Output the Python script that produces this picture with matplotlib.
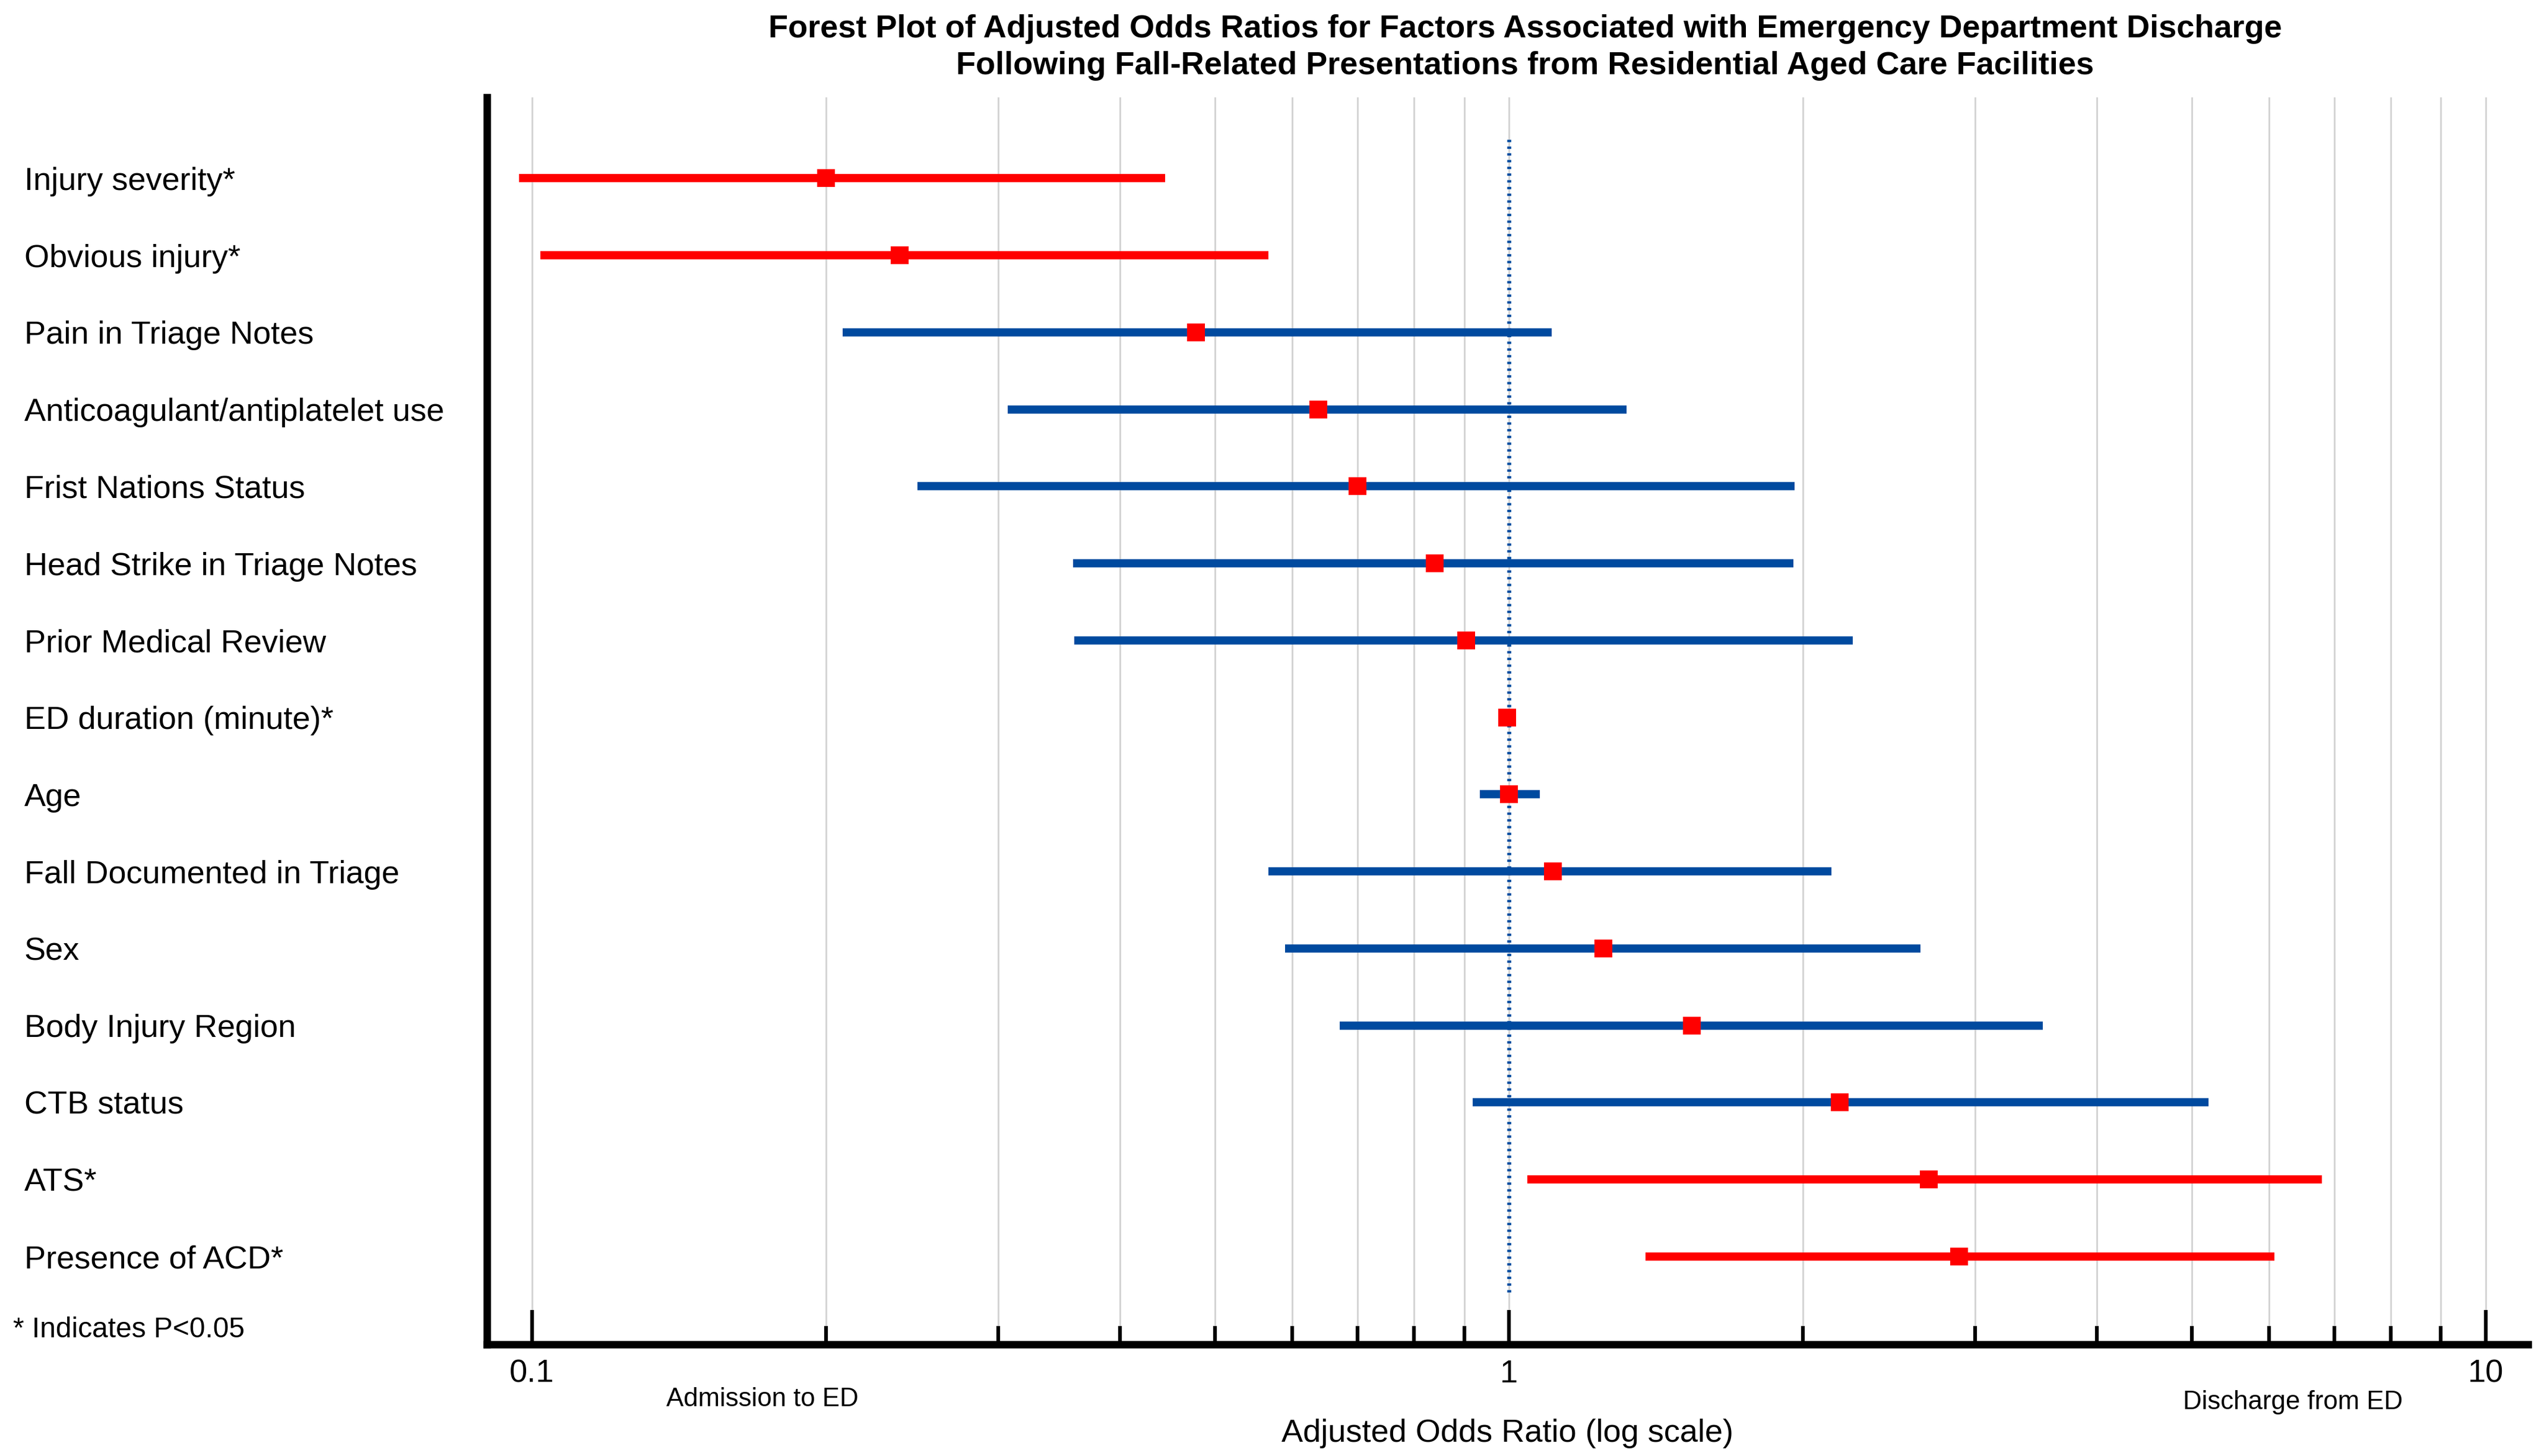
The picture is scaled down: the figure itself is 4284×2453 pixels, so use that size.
import matplotlib
matplotlib.use("Agg")
import matplotlib.pyplot as plt
import matplotlib.transforms as mtransforms
from matplotlib.ticker import LogLocator, NullFormatter, FixedLocator, FixedFormatter

plt.rcParams["font.family"] = ["Liberation Sans", "DejaVu Sans"]

# data (top to bottom)
factors = [
    "Injury severity*",
    "Obvious injury*",
    "Pain in Triage Notes",
    "Anticoagulant/antiplatelet use",
    "Frist Nations Status",
    "Head Strike in Triage Notes",
    "Prior Medical Review",
    "ED duration (minute)*",
    "Age",
    "Fall Documented in Triage",
    "Sex",
    "Body Injury Region",
    "CTB status",
    "ATS*",
    "Presence of ACD*",
]
odds_ratio = [0.200, 0.238, 0.478, 0.638, 0.700, 0.840, 0.904, 0.996, 1.000, 1.109, 1.250, 1.540, 2.180, 2.690, 2.890]
ci_low = [0.097, 0.102, 0.208, 0.307, 0.248, 0.358, 0.359, 0.994, 0.934, 0.567, 0.590, 0.671, 0.918, 1.045, 1.380]
ci_high = [0.445, 0.567, 1.107, 1.320, 1.960, 1.955, 2.250, 0.998, 1.075, 2.140, 2.640, 3.520, 5.200, 6.800, 6.080]
significant = [True, True, False, False, False, False, False, True, False, False, False, False, False, True, True]

RED = "#FF0000"
BLUE = "#004A9F"

fig = plt.figure(figsize=(14.28, 8.1767), dpi=300)
ax = fig.add_axes([0.1914, 0.0767, 0.8023, 0.8564])

rows = list(range(len(factors)))
for i in rows:
    color = RED if significant[i] else BLUE
    ax.hlines(i, ci_low[i], ci_high[i], color=color, lw=3.3, zorder=3)
ax.plot(odds_ratio, rows, "s", color=RED, ms=7, mew=0, zorder=4)

# reference line at OR = 1
ax.vlines(1, -0.5, len(factors) - 0.5, color=BLUE, lw=1.6,
          linestyles=[(0, (0.6, 1.1))], zorder=2)

ax.set_xscale("log")
ax.set_xlim(0.0899, 11.05)
ax.set_ylim(15.14, -1.05)

ax.xaxis.set_major_locator(FixedLocator([0.1, 1, 10]))
ax.xaxis.set_major_formatter(FixedFormatter(["0.1", "1", "10"]))
ax.xaxis.set_minor_locator(LogLocator(base=10, subs=range(2, 10)))
ax.xaxis.set_minor_formatter(NullFormatter())
ax.grid(True, which="both", axis="x", color="#d4d4d4", lw=0.7, zorder=0)
ax.tick_params(axis="x", which="major", direction="in", length=14, width=1.5,
               labelsize=13, pad=6)
ax.tick_params(axis="x", which="minor", direction="in", length=7.5, width=1.5)

ax.set_yticks(rows)
ax.set_yticklabels(factors, fontsize=13)
for lbl in ax.get_yticklabels():
    lbl.set_horizontalalignment("left")
ax.tick_params(axis="y", length=0, pad=187)

for side in ("top", "right"):
    ax.spines[side].set_visible(False)
for side in ("left", "bottom"):
    ax.spines[side].set_linewidth(3)

ax.set_xlabel("Adjusted Odds Ratio (log scale)", fontsize=13, labelpad=12)

trans = mtransforms.blended_transform_factory(ax.transData, ax.transAxes)
ax.text(0.172, -0.0443, "Admission to ED", transform=trans, fontsize=10.5,
        ha="center", va="center")
ax.text(6.35, -0.0466, "Discharge from ED", transform=trans, fontsize=10.5,
        ha="center", va="center")

ftrans = mtransforms.blended_transform_factory(fig.transFigure, ax.transData)
ax.text(0.0051, 14.95, "* Indicates P<0.05", transform=ftrans, fontsize=11.5,
        ha="left", va="center", clip_on=False)

fig.text(0.5995, 1 - 80 / 2453,
         "Forest Plot of Adjusted Odds Ratios for Factors Associated with Emergency Department Discharge\n"
         "Following Fall-Related Presentations from Residential Aged Care Facilities",
         fontsize=13, fontweight="bold", linespacing=1.3, ha="center", va="center")

fig.savefig("out.png", dpi=300)
